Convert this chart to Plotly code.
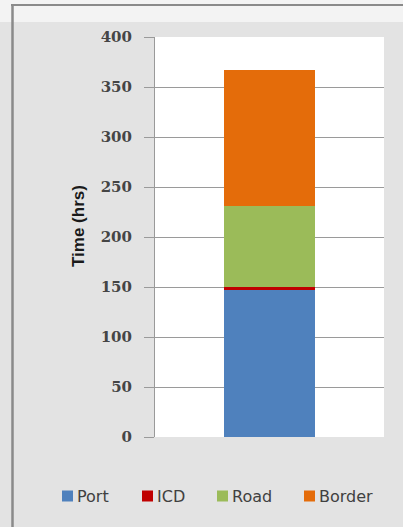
import plotly.graph_objects as go

categories = [""]
series_names = ["Port", "ICD", "Road", "Border"]
port = [147]
icd = [3]
road = [81]
border = [136]
series_values = [port, icd, road, border]
colors = ["#4f81bd", "#c00000", "#9bbb59", "#e46c0a"]
y_ticks = [0, 50, 100, 150, 200, 250, 300, 350, 400]

W, H = 403, 527
L, R, T, B = 155, 19, 37, 90
pw = W - L - R
ph = H - T - B

def px(x):
    return (x - L) / pw

def py(y):
    return (H - B - y) / ph

fig = go.Figure()
for name, vals, c in zip(series_names, series_values, colors):
    fig.add_trace(go.Bar(x=categories, y=vals, name=name, showlegend=False,
                         marker=dict(color=c, line=dict(width=0))))

shapes = [
    dict(type="rect", xref="paper", yref="paper", x0=px(0), x1=px(W), y0=py(0), y1=py(22),
         fillcolor="#f3f3f3", line=dict(width=0), layer="below"),
    dict(type="line", xref="paper", yref="paper", x0=px(12.5), x1=px(12.5), y0=py(4), y1=py(H),
         line=dict(color="#8a8a8a", width=2.5)),
    dict(type="line", xref="paper", yref="paper", x0=px(11), x1=px(W), y0=py(5), y1=py(5),
         line=dict(color="#8a8a8a", width=2)),
]

annotations = [dict(text="Time (hrs)", textangle=-90, xref="paper", yref="paper",
                    x=px(78), y=py(226), xanchor="center", yanchor="middle", showarrow=False,
                    font=dict(family="Liberation Sans", size=17, color="#1a1a1a", weight="bold"))]

# legend (key squares + labels)
legend_x = [62, 142, 217, 304]
legend_yc = 496
for name, c, lx in zip(series_names, colors, legend_x):
    shapes.append(dict(type="rect", xref="paper", yref="paper",
                       x0=px(lx), x1=px(lx + 11), y0=py(legend_yc + 5.5), y1=py(legend_yc - 5.5),
                       fillcolor=c, line=dict(width=0)))
    annotations.append(dict(text=name, xref="paper", yref="paper", x=px(lx + 13), y=py(legend_yc),
                            xanchor="left", yanchor="middle", showarrow=False,
                            font=dict(family="DejaVu Sans", size=16, color="#404040")))

fig.update_layout(
    width=W, height=H,
    margin=dict(l=L, r=R, t=T, b=B, pad=0),
    paper_bgcolor="#e3e3e3",
    plot_bgcolor="#ffffff",
    barmode="stack",
    bargap=0.6,
    shapes=shapes,
    annotations=annotations,
    showlegend=False,
    xaxis=dict(showticklabels=False, showgrid=False, zeroline=False, showline=False,
               ticks=""),
    yaxis=dict(range=[0, 400], tickvals=y_ticks, ticks="outside", ticklen=10,
               tickcolor="#9a9a9a", tickwidth=1, gridcolor="#9a9a9a", gridwidth=1,
               showline=True, linecolor="#9a9a9a", linewidth=1, zeroline=False,
               ticklabelstandoff=9,
               tickfont=dict(family="DejaVu Serif", size=15, color="#454545", weight="bold")),
)

fig.write_html("out.html")
